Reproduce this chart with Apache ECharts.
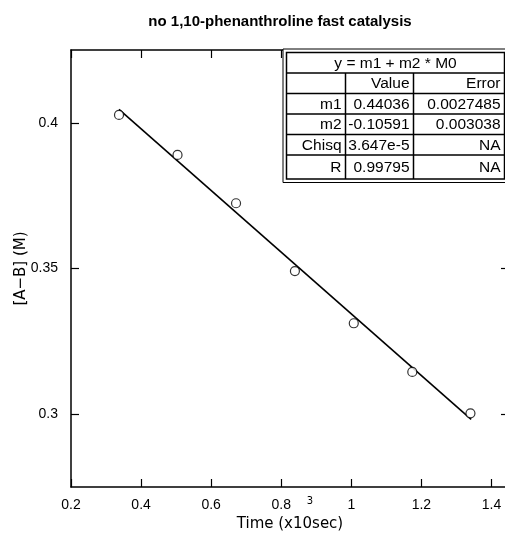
<!DOCTYPE html>
<html>
<head>
<meta charset="utf-8">
<script src="https://cdn.jsdelivr.net/npm/echarts@6/dist/echarts.min.js"></script>
<style>html,body{margin:0;padding:0;background:#fff}#c{width:505px;height:533px}</style>
</head>
<body>
<div id="c"></div>
<script>
// ---- data ----
const timeValues = [0.337, 0.504, 0.671, 0.839, 1.007, 1.174, 1.340];
const concValues = [0.4027, 0.3890, 0.3724, 0.3491, 0.3312, 0.3145, 0.3003];
const fitX = [0.337, 1.342];
const fitY = [0.4046, 0.2982];
const xTicks = [0.2, 0.4, 0.6, 0.8, 1.0, 1.2, 1.4];
const yTicks = [0.3, 0.35, 0.4];
const tableTitle = 'y = m1 + m2 * M0';
const tableHeader = ['', 'Value', 'Error'];
const tableRows = [
  ['m1', '0.44036', '0.0027485'],
  ['m2', '-0.10591', '0.003038'],
  ['Chisq', '3.647e-5', 'NA'],
  ['R', '0.99795', 'NA']
];

const chart = echarts.init(document.getElementById('c'), null, {renderer: 'canvas'});

const AX = {color: '#000', width: 1.5};
const TICK = {inside: true, length: 8, lineStyle: {color: '#000', width: 1.2}};
const LBL = {fontFamily: 'Liberation Sans', fontSize: 14, color: '#000'};

// table layout (annotation)
const TL = 286.5, TR = 504.5, TT = 52.5, TB = 179;
const rowY = [52.5, 73, 93.5, 114, 134.5, 155, 179];
const colX = [286.5, 345.5, 413.5, 504.5];
const TFS = 15.5;
const g = [];
g.push({type: 'rect', z: 100, shape: {x: 283, y: 49, width: 230, height: TB - 49 + 3.5}, style: {fill: '#fff', stroke: '#000', lineWidth: 1}});
g.push({type: 'rect', z: 101, shape: {x: TL, y: TT, width: TR - TL, height: TB - TT}, style: {fill: 'none', stroke: '#000', lineWidth: 1.5}});
for (let i = 1; i < rowY.length - 1; i++) {
  g.push({type: 'line', z: 101, shape: {x1: TL, y1: rowY[i], x2: TR, y2: rowY[i]}, style: {stroke: '#000', lineWidth: 1.5}});
}
for (let j = 1; j < colX.length - 1; j++) {
  g.push({type: 'line', z: 101, shape: {x1: colX[j], y1: rowY[1], x2: colX[j], y2: TB}, style: {stroke: '#000', lineWidth: 1.5}});
}
g.push({type: 'text', z: 102, x: (TL + TR) / 2, y: (rowY[0] + rowY[1]) / 2 + 0.5,
  style: {text: tableTitle, fontFamily: 'Liberation Sans', fontSize: TFS, fill: '#000', align: 'center', verticalAlign: 'middle'}});
const allRows = [tableHeader].concat(tableRows);
allRows.forEach((r, i) => {
  r.forEach((t, j) => {
    if (!t) return;
    g.push({type: 'text', z: 102, x: colX[j + 1] - 4, y: (rowY[i + 1] + rowY[i + 2]) / 2 + 0.5,
      style: {text: t, fontFamily: 'Liberation Sans', fontSize: TFS, fill: '#000', align: 'right', verticalAlign: 'middle'}});
  });
});
// superscript 3 of the x-axis name
g.push({type: 'text', z: 102, x: 310, y: 501,
  style: {text: '3', fontFamily: 'DejaVu Sans', fontSize: 10, fill: '#000', align: 'center', verticalAlign: 'middle'}});

chart.setOption({
  animation: false,
  backgroundColor: '#fff',
  title: {
    text: 'no 1,10-phenanthroline fast catalysis',
    left: 275, top: 9, textAlign: 'center',
    textStyle: {fontFamily: 'Liberation Sans', fontWeight: 'bold', fontSize: 15, color: '#000'}
  },
  grid: {left: 71, top: 50, width: 438, height: 437, containLabel: false, outerBoundsMode: 'none'},
  xAxis: [
    {type: 'value', min: 0.2, max: 1.45, position: 'bottom',
     name: 'Time (x10sec)', nameLocation: 'middle', nameGap: 30, nameMoveOverlap: false,
     nameTextStyle: {fontFamily: 'DejaVu Sans', fontSize: 15, color: '#000'},
     axisLine: {show: true, lineStyle: AX},
     axisTick: Object.assign({customValues: xTicks}, TICK),
     axisLabel: Object.assign({customValues: xTicks, margin: 11}, LBL),
     splitLine: {show: false}},
    {type: 'value', min: 0.2, max: 1.45, position: 'top',
     axisLine: {show: true, lineStyle: AX},
     axisTick: Object.assign({customValues: xTicks}, TICK),
     axisLabel: {show: false}, splitLine: {show: false}}
  ],
  yAxis: [
    {type: 'value', min: 0.275, max: 0.425, position: 'left',
     name: '[A\u2212B] (M)', nameLocation: 'middle', nameGap: 42, nameRotate: 90, nameMoveOverlap: false,
     nameTextStyle: {fontFamily: 'DejaVu Sans', fontSize: 15, color: '#000'},
     axisLine: {show: true, lineStyle: AX},
     axisTick: Object.assign({customValues: yTicks}, TICK),
     axisLabel: Object.assign({customValues: yTicks, margin: 13}, LBL),
     splitLine: {show: false}},
    {type: 'value', min: 0.275, max: 0.425, position: 'right',
     axisLine: {show: true, lineStyle: AX},
     axisTick: Object.assign({customValues: yTicks}, TICK),
     axisLabel: {show: false}, splitLine: {show: false}}
  ],
  series: [
    {type: 'line', data: fitX.map((x, i) => [x, fitY[i]]), showSymbol: false, symbol: 'none',
     lineStyle: {color: '#000', width: 1.6}, z: 2, silent: true},
    {type: 'scatter', data: timeValues.map((x, i) => [x, concValues[i]]), symbol: 'circle', symbolSize: 9,
     itemStyle: {color: '#fff', borderColor: '#000', borderWidth: 1.2}, z: 3}
  ],
  graphic: g
});
</script>
</body>
</html>
